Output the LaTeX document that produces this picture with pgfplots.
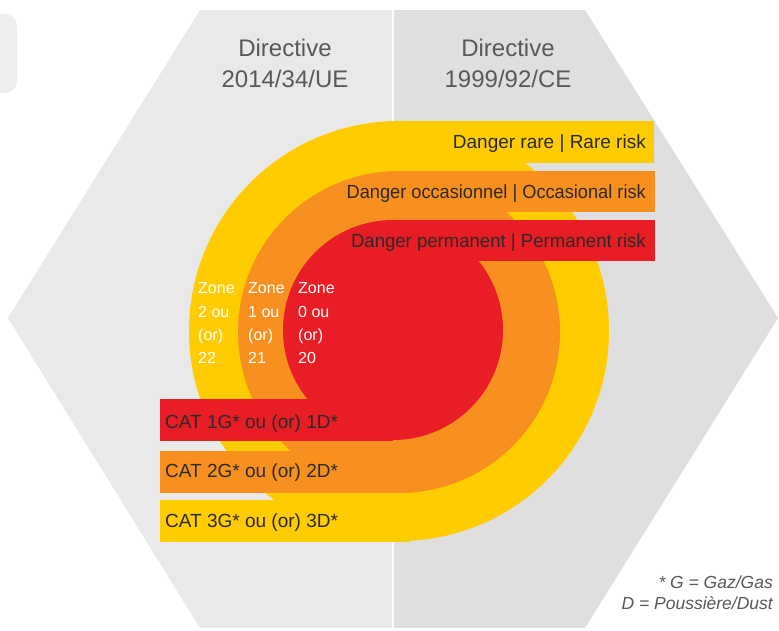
\documentclass[border=0pt]{standalone}
\usepackage{pgfplots}
\pgfplotsset{compat=1.18}
\usepackage{fontspec}
\setmainfont{Liberation Sans}

\definecolor{hexleft}{HTML}{E9E9E9}
\definecolor{hexright}{HTML}{DFDFDF}
\definecolor{tabgray}{HTML}{EEEDEE}
\definecolor{zyellow}{HTML}{FFCC00}
\definecolor{zorange}{HTML}{F7901E}
\definecolor{zred}{HTML}{E91D25}
\definecolor{headgray}{HTML}{58595B}
\definecolor{bandtext}{HTML}{2B2A29}

\tikzset{
  head/.style={anchor=base, text=headgray, font=\fontsize{24}{28}\selectfont},
  bandR/.style={anchor=base east, inner sep=0pt, text=bandtext, font=\fontsize{19}{23}\selectfont},
  bandL/.style={anchor=base west, inner sep=0pt, text=bandtext, font=\fontsize{19}{23}\selectfont},
  zone/.style={anchor=base west, inner sep=0pt, text=white, font=\fontsize{16}{19}\selectfont},
  foot/.style={anchor=base east, inner sep=0pt, text=headgray, font=\fontsize{17.5}{21}\selectfont\itshape},
}

\begin{document}
\begin{tikzpicture}
\begin{axis}[
    scale only axis,
    width=779pt, height=630pt,
    xmin=0, xmax=779, ymin=0, ymax=630,
    y dir=reverse,
    hide axis,
    enlargelimits=false,
]
% background
\addplot[fill=white, draw=none] coordinates {(0,0) (779,0) (779,630) (0,630)} --cycle;

% hexagon, two halves
\addplot[fill=hexleft, draw=none] coordinates {(200,10) (393,10) (393,628) (200,628) (8,318)} --cycle;
\addplot[fill=hexright, draw=none] coordinates {(393,10) (585,10) (778,318) (585,628) (393,628)} --cycle;
\addplot[white, line width=1.2pt] coordinates {(393,10) (393,628)};

% partial tab at top left
\addplot[fill=tabgray, draw=none, rounded corners=12pt] coordinates {(-30,14) (17,14) (17,93) (-30,93)} --cycle;

% outer zone (yellow)
\fill[zyellow] (axis cs:399,331) circle[radius=210];
\addplot[fill=zyellow, draw=none] coordinates {(399,121) (654,121) (654,163) (399,163)} --cycle;
\addplot[fill=zyellow, draw=none] coordinates {(160,500) (410,500) (410,542) (160,542)} --cycle;

% middle zone (orange)
\fill[zorange] (axis cs:399,332) circle[radius=161];
\addplot[fill=zorange, draw=none] coordinates {(399,171) (655,171) (655,212) (399,212)} --cycle;
\addplot[fill=zorange, draw=none] coordinates {(160,451) (400,451) (400,493) (160,493)} --cycle;

% inner zone (red)
\fill[zred] (axis cs:393,330) circle[radius=110];
\addplot[fill=zred, draw=none] coordinates {(393,220) (655,220) (655,261) (393,261)} --cycle;
\addplot[fill=zred, draw=none] coordinates {(160,399) (393,399) (393,441) (160,441)} --cycle;

% headings
\node[head] at (axis cs:285,56) {Directive};
\node[head] at (axis cs:285,87) {2014/34/UE};
\node[head] at (axis cs:508,56) {Directive};
\node[head] at (axis cs:508,87) {1999/92/CE};

% band labels
\node[bandR] at (axis cs:646,148) {Danger rare | Rare risk};
\node[bandR, xscale=0.958] at (axis cs:646,198) {Danger occasionnel | Occasional risk};
\node[bandR, xscale=0.977] at (axis cs:646,247) {Danger permanent | Permanent risk};
\node[bandL] at (axis cs:165,428) {CAT 1G* ou (or) 1D*};
\node[bandL] at (axis cs:165,477) {CAT 2G* ou (or) 2D*};
\node[bandL] at (axis cs:165,527) {CAT 3G* ou (or) 3D*};

% zone labels
\node[zone] at (axis cs:198,293) {Zone};
\node[zone] at (axis cs:198,317) {2 ou};
\node[zone] at (axis cs:198,340) {(or)};
\node[zone] at (axis cs:198,363) {22};
\node[zone] at (axis cs:248,293) {Zone};
\node[zone] at (axis cs:248,317) {1 ou};
\node[zone] at (axis cs:248,340) {(or)};
\node[zone] at (axis cs:248,363) {21};
\node[zone] at (axis cs:298,293) {Zone};
\node[zone] at (axis cs:298,317) {0 ou};
\node[zone] at (axis cs:298,340) {(or)};
\node[zone] at (axis cs:298,363) {20};

% footnote
\node[foot] at (axis cs:773,588) {* G = Gaz/Gas};
\node[foot] at (axis cs:773,609) {D = Poussière/Dust};
\end{axis}
\end{tikzpicture}
\end{document}
